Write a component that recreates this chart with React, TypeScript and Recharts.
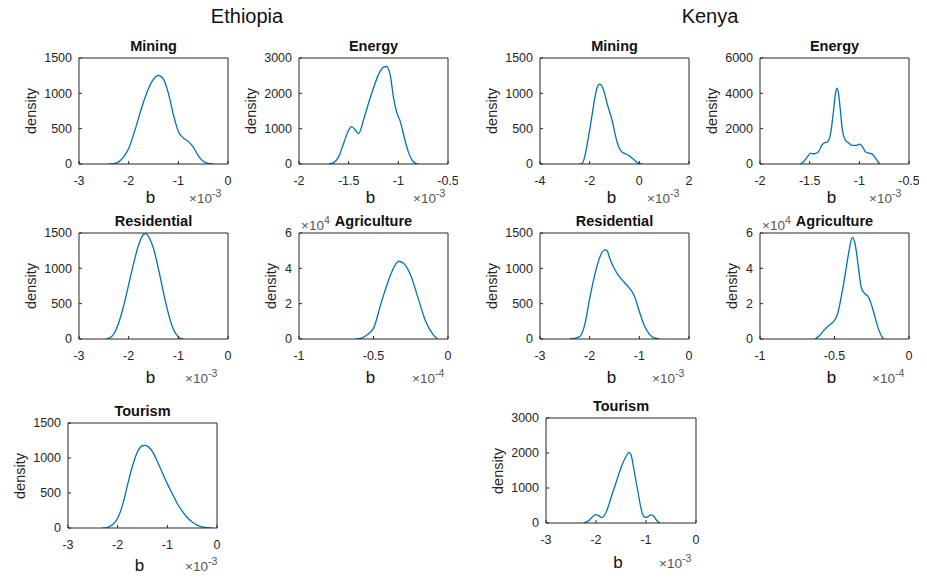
import React from 'react'
import { LineChart, Line, XAxis, YAxis } from 'recharts'

const FONT = '"Liberation Sans", Arial, Helvetica, sans-serif'
const INK = '#262626'
const BLUE = '#0072BD'

// tick labels
const ticksM3 = [-3, -2, -1, 0]
const ticksM2 = [-2, -1.5, -1, -0.5]
const ticksM4 = [-4, -2, 0, 2]
const ticksM1 = [-1, -0.5, 0]
const yTicks1500 = [0, 500, 1000, 1500]
const yTicks3000 = [0, 1000, 2000, 3000]
const yTicks6000 = [0, 2000, 4000, 6000]
const yTicks6 = [0, 2, 4, 6]

// Ethiopia (b in units of the exponent label, density in axis units)
const ethMiningB = [-2.4, -2.3, -2.2, -2.1, -2.0, -1.9, -1.8, -1.7, -1.6, -1.5, -1.4, -1.3, -1.2, -1.1, -1.0, -0.9, -0.8, -0.7, -0.6, -0.5, -0.4, -0.3]
const ethMiningD = [0, 5, 30, 100, 220, 420, 650, 880, 1070, 1200, 1255, 1200, 1000, 700, 460, 370, 320, 240, 120, 40, 8, 0]

const ethEnergyB = [-1.7, -1.65, -1.6, -1.55, -1.5, -1.47, -1.43, -1.4, -1.35, -1.3, -1.25, -1.2, -1.15, -1.12, -1.08, -1.05, -1.02, -0.98, -0.94, -0.9, -0.86, -0.82, -0.8]
const ethEnergyD = [0, 40, 210, 590, 960, 1060, 950, 860, 1250, 1720, 2150, 2530, 2740, 2760, 2500, 1900, 1500, 1200, 750, 350, 100, 10, 0]

const ethResB = [-2.45, -2.4, -2.3, -2.2, -2.1, -2.0, -1.9, -1.8, -1.7, -1.65, -1.6, -1.5, -1.4, -1.3, -1.2, -1.1, -1.0, -0.9]
const ethResD = [0, 10, 70, 230, 470, 770, 1070, 1330, 1480, 1490, 1450, 1280, 990, 660, 360, 140, 30, 0]

const ethAgrB = [-0.62, -0.58, -0.55, -0.5, -0.45, -0.4, -0.35, -0.33, -0.3, -0.25, -0.2, -0.15, -0.1, -0.07]
const ethAgrD = [0, 0.05, 0.2, 0.6, 2.0, 3.3, 4.25, 4.4, 4.3, 3.6, 2.3, 1.0, 0.25, 0]

const ethTourB = [-2.3, -2.2, -2.1, -2.0, -1.9, -1.8, -1.7, -1.6, -1.5, -1.45, -1.4, -1.3, -1.2, -1.1, -1.0, -0.9, -0.8, -0.7, -0.6, -0.5, -0.4, -0.3, -0.2, -0.1]
const ethTourD = [0, 10, 50, 140, 330, 620, 890, 1090, 1175, 1180, 1170, 1090, 950, 790, 630, 490, 350, 240, 150, 85, 40, 15, 5, 0]

// Kenya
const kenMiningB = [-2.4, -2.3, -2.2, -2.1, -2.0, -1.9, -1.8, -1.7, -1.6, -1.5, -1.4, -1.3, -1.2, -1.1, -1.0, -0.9, -0.8, -0.7, -0.6, -0.5, -0.4, -0.3, -0.2, -0.1, 0.0, 0.1]
const kenMiningD = [0, 10, 100, 280, 480, 700, 920, 1080, 1130, 1100, 1000, 860, 740, 625, 460, 315, 220, 170, 150, 135, 115, 85, 55, 25, 8, 0]

const kenEnergyB = [-1.6, -1.57, -1.53, -1.49, -1.45, -1.41, -1.38, -1.35, -1.32, -1.29, -1.26, -1.24, -1.225, -1.21, -1.19, -1.17, -1.14, -1.11, -1.07, -1.03, -1.0, -0.97, -0.94, -0.9, -0.87, -0.84, -0.81, -0.79]
const kenEnergyD = [0, 80, 350, 600, 580, 700, 1050, 1200, 1250, 1700, 3000, 4000, 4300, 4000, 3000, 1900, 1350, 1200, 1050, 1050, 1120, 1000, 700, 610, 560, 350, 100, 0]

const kenResB = [-2.4, -2.3, -2.2, -2.1, -2.0, -1.9, -1.8, -1.7, -1.65, -1.6, -1.5, -1.4, -1.3, -1.2, -1.1, -1.0, -0.9, -0.8, -0.7, -0.6]
const kenResD = [0, 10, 35, 200, 570, 900, 1150, 1260, 1250, 1150, 990, 880, 800, 720, 610, 390, 190, 70, 15, 0]

const kenAgrB = [-0.63, -0.6, -0.57, -0.54, -0.51, -0.48, -0.45, -0.42, -0.4, -0.38, -0.36, -0.34, -0.32, -0.3, -0.27, -0.24, -0.21, -0.18, -0.17]
const kenAgrD = [0, 0.2, 0.5, 0.75, 0.95, 1.4, 2.6, 4.1, 5.1, 5.75, 5.3, 4.1, 2.9, 2.6, 2.35, 1.6, 0.7, 0.1, 0]

const kenTourB = [-2.25, -2.15, -2.05, -2.0, -1.95, -1.88, -1.8, -1.7, -1.6, -1.5, -1.4, -1.34, -1.3, -1.25, -1.2, -1.15, -1.1, -1.05, -1.0, -0.95, -0.9, -0.85, -0.8, -0.75, -0.72]
const kenTourD = [0, 60, 200, 240, 210, 155, 300, 720, 1150, 1580, 1900, 2020, 1950, 1600, 1200, 800, 420, 200, 160, 190, 240, 200, 100, 25, 0]

interface PanelSpec {
  title: string
  x: number
  y: number
  w: number
  h: number
  b: number[]
  d: number[]
  xTicks: number[]
  yTicks: number[]
  xExp: string
  yExp?: string
  dOff: number
  bY: number
  ex: number
}

const panels: PanelSpec[] = [
  { title: 'Mining', x: 79, y: 58, w: 149, h: 106, b: ethMiningB, d: ethMiningD, xTicks: ticksM3, yTicks: yTicks1500, xExp: '-3', dOff: 48, bY: 197, ex: 189 },
  { title: 'Energy', x: 299, y: 58, w: 149, h: 106, b: ethEnergyB, d: ethEnergyD, xTicks: ticksM2, yTicks: yTicks3000, xExp: '-3', dOff: 48, bY: 197, ex: 413 },
  { title: 'Mining', x: 540, y: 58, w: 149, h: 106, b: kenMiningB, d: kenMiningD, xTicks: ticksM4, yTicks: yTicks1500, xExp: '-3', dOff: 48, bY: 197, ex: 647 },
  { title: 'Energy', x: 760, y: 58, w: 149, h: 106, b: kenEnergyB, d: kenEnergyD, xTicks: ticksM2, yTicks: yTicks6000, xExp: '-3', dOff: 48, bY: 197, ex: 869 },
  { title: 'Residential', x: 79, y: 233, w: 149, h: 106, b: ethResB, d: ethResD, xTicks: ticksM3, yTicks: yTicks1500, xExp: '-3', dOff: 48, bY: 377, ex: 185 },
  { title: 'Agriculture', x: 299, y: 233, w: 149, h: 106, b: ethAgrB, d: ethAgrD, xTicks: ticksM1, yTicks: yTicks6, xExp: '-4', yExp: '4', dOff: 28, bY: 377, ex: 412 },
  { title: 'Residential', x: 540, y: 233, w: 149, h: 106, b: kenResB, d: kenResD, xTicks: ticksM3, yTicks: yTicks1500, xExp: '-3', dOff: 48, bY: 377, ex: 652 },
  { title: 'Agriculture', x: 760, y: 233, w: 149, h: 106, b: kenAgrB, d: kenAgrD, xTicks: ticksM1, yTicks: yTicks6, xExp: '-4', yExp: '4', dOff: 28, bY: 377, ex: 872 },
  { title: 'Tourism', x: 68, y: 423, w: 149, h: 105, b: ethTourB, d: ethTourD, xTicks: ticksM3, yTicks: yTicks1500, xExp: '-3', dOff: 48, bY: 565, ex: 185 },
  { title: 'Tourism', x: 546, y: 418, w: 150, h: 105, b: kenTourB, d: kenTourD, xTicks: ticksM3, yTicks: yTicks3000, xExp: '-3', dOff: 48, bY: 562, ex: 659 },
]

const abs = (left: number, top: number, extra: React.CSSProperties = {}): React.CSSProperties => ({
  position: 'absolute', left, top, whiteSpace: 'nowrap', lineHeight: 1, fontFamily: FONT, ...extra,
})

function Exp({ base, power }: { base: string; power: string }) {
  return (
    <span>
      {base}
      <span style={{ fontSize: 10.5, position: 'relative', top: -6 }}>{power}</span>
    </span>
  )
}

function Panel({ p }: { p: PanelSpec }) {
  const data = p.b.map((b, i) => ({ b, d: p.d[i] }))
  const L = 50, T = 30, R = 10, B = 30
  const xDomain = [p.xTicks[0], p.xTicks[p.xTicks.length - 1]]
  const yDomain = [p.yTicks[0], p.yTicks[p.yTicks.length - 1]]
  const tickStyle = { fill: INK, fontSize: 12.5, fontFamily: FONT }
  return (
    <>
      <div style={{ position: 'absolute', left: p.x - L, top: p.y - T }}>
        <LineChart width={p.w + L + R} height={p.h + T + B} data={data} margin={{ top: T - 1, right: R - 1, bottom: 0, left: 0 }}>
          <XAxis dataKey="b" type="number" domain={xDomain} ticks={p.xTicks} interval={0} allowDataOverflow height={B}
            tickSize={-3} tickMargin={15} stroke={INK} tick={tickStyle} />
          <XAxis xAxisId="top" orientation="top" dataKey="b" type="number" domain={xDomain} ticks={p.xTicks} interval={0}
            allowDataOverflow height={1} tick={false} tickSize={-3} stroke={INK} />
          <YAxis type="number" domain={yDomain} ticks={p.yTicks} interval={0} allowDataOverflow width={L}
            tickSize={-3} tickMargin={10} stroke={INK} tick={tickStyle} />
          <YAxis yAxisId="right" orientation="right" type="number" domain={yDomain} ticks={p.yTicks} interval={0}
            allowDataOverflow width={1} tick={false} tickSize={-3} stroke={INK} />
          <Line dataKey="d" type="monotone" stroke={BLUE} strokeWidth={1.3} dot={false} isAnimationActive={false} />
        </LineChart>
      </div>
      <div style={abs(p.x + p.w / 2, p.y - 12, { transform: 'translate(-50%, -50%)', fontWeight: 'bold', fontSize: 14.5, color: '#111' })}>
        {p.title}
      </div>
      <div style={abs(p.x - p.dOff, p.y + p.h / 2, { transform: 'translate(-50%, -50%) rotate(-90deg)', fontSize: 14.5, color: INK })}>
        density
      </div>
      <div style={abs(p.x + p.w / 2 - 3, p.bY, { transform: 'translate(-50%, -50%)', fontSize: 17, color: '#111' })}>b</div>
      <div style={abs(p.ex, p.bY + 2, { transform: 'translateY(-50%)', fontSize: 13.5, color: '#555' })}>
        <Exp base="×10" power={p.xExp} />
      </div>
      {p.yExp && (
        <div style={abs(p.x + 2, p.y - 7, { transform: 'translateY(-50%)', fontSize: 13.5, color: '#555' })}>
          <Exp base="×10" power={p.yExp} />
        </div>
      )}
    </>
  )
}

export default function App() {
  return (
    <div style={{ position: 'absolute', left: 0, top: 0, width: 927, height: 578, background: '#fff', overflow: 'hidden' }}>
      <div style={abs(247, 16, { transform: 'translate(-50%, -50%)', fontSize: 20, color: '#111' })}>Ethiopia</div>
      <div style={abs(710, 16, { transform: 'translate(-50%, -50%)', fontSize: 20, color: '#111' })}>Kenya</div>
      {panels.map((p, i) => (
        <Panel key={i} p={p} />
      ))}
    </div>
  )
}
